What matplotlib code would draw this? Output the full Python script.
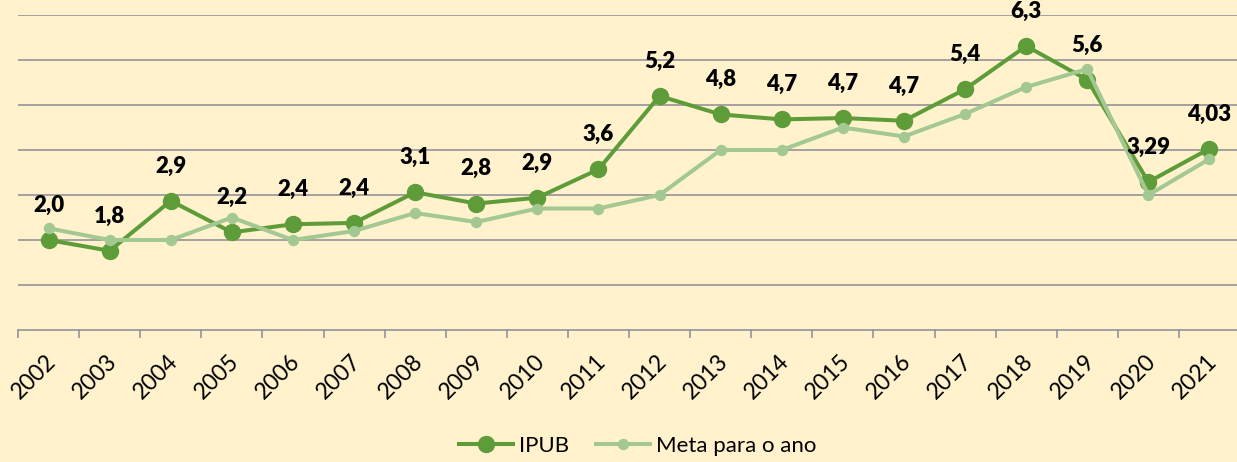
import matplotlib
matplotlib.use("Agg")
import matplotlib.pyplot as plt
from matplotlib.lines import Line2D
from matplotlib.transforms import ScaledTranslation

years = ["2002", "2003", "2004", "2005", "2006", "2007", "2008", "2009", "2010", "2011",
         "2012", "2013", "2014", "2015", "2016", "2017", "2018", "2019", "2020", "2021"]
ipub = [2.00, 1.76, 2.87, 2.17, 2.35, 2.38, 3.06, 2.81, 2.94, 3.57,
        5.20, 4.79, 4.68, 4.71, 4.65, 5.35, 6.31, 5.56, 3.29, 4.03]
ipub_labels = ["2,0", "1,8", "2,9", "2,2", "2,4", "2,4", "3,1", "2,8", "2,9", "3,6",
               "5,2", "4,8", "4,7", "4,7", "4,7", "5,4", "6,3", "5,6", "3,29", "4,03"]
meta = [2.26, 2.0, 2.0, 2.5, 2.0, 2.2, 2.6, 2.4, 2.7, 2.7,
        3.0, 4.0, 4.0, 4.5, 4.3, 4.8, 5.4, 5.8, 3.0, 3.8]

BG = "#FFF2CC"
DARK = "#5E9C3A"
LIGHT = "#A3C891"
GRID = "#8A8A94"

plt.rcParams["font.family"] = ["Lato", "DejaVu Sans"]

fig = plt.figure(figsize=(12.37, 4.62), dpi=100, facecolor=BG)
ax = fig.add_axes([18 / 1237, (462 - 330) / 462, 1222 / 1237, 315 / 462])
ax.set_facecolor(BG)

x = list(range(len(years)))
ax.plot(x, ipub, color=DARK, lw=2.9, marker="o", ms=11.5, zorder=3, label="IPUB")
ax.plot(x, meta, color=LIGHT, lw=2.9, marker="o", ms=7.2, zorder=4, label="Meta para o ano")

for xi, yi, lab in zip(x, ipub, ipub_labels):
    ax.annotate(lab, (xi, yi), xytext=(0, 25), textcoords="offset points",
                ha="center", va="center", fontsize=16, fontweight="heavy",
                color="black", zorder=6, annotation_clip=False)

ax.set_xlim(-0.5, len(years) - 0.5)
ax.set_ylim(0, 7)
ax.set_yticks(range(1, 8))
ax.yaxis.grid(True, color=GRID, lw=1.1)
ax.set_axisbelow(True)
ax.tick_params(axis="y", left=False, labelleft=False)

ax.set_xticks([i - 0.5 for i in range(len(years) + 1)])
ax.set_xticklabels([])
ax.tick_params(axis="x", which="major", length=6, width=1.1, color=GRID, direction="out")
ax.set_xticks(x, minor=True)
ax.set_xticklabels(years, minor=True, rotation=45, ha="right", va="center",
                   rotation_mode="anchor", fontsize=16.5)
ax.tick_params(axis="x", which="minor", length=0, pad=20)
shift = ScaledTranslation(4 / 100, 0, fig.dpi_scale_trans)
for lbl in ax.get_xticklabels(minor=True):
    lbl.set_transform(lbl.get_transform() + shift)

for s in ["left", "right", "top"]:
    ax.spines[s].set_visible(False)
ax.spines["bottom"].set_color(GRID)
ax.spines["bottom"].set_linewidth(1.1)

handles = [Line2D([], [], color=DARK, lw=2.9, marker="o", ms=11.5),
           Line2D([], [], color=LIGHT, lw=2.9, marker="o", ms=7.2)]
fig.legend(handles, ["IPUB", "Meta para o ano"], loc="center",
           bbox_to_anchor=(638 / 1237, 1 - 446 / 462), ncol=2, frameon=False,
           fontsize=16, handlelength=2.4, handletextpad=0.3, columnspacing=1.2)

fig.savefig("out.png", dpi=100, facecolor=BG)
